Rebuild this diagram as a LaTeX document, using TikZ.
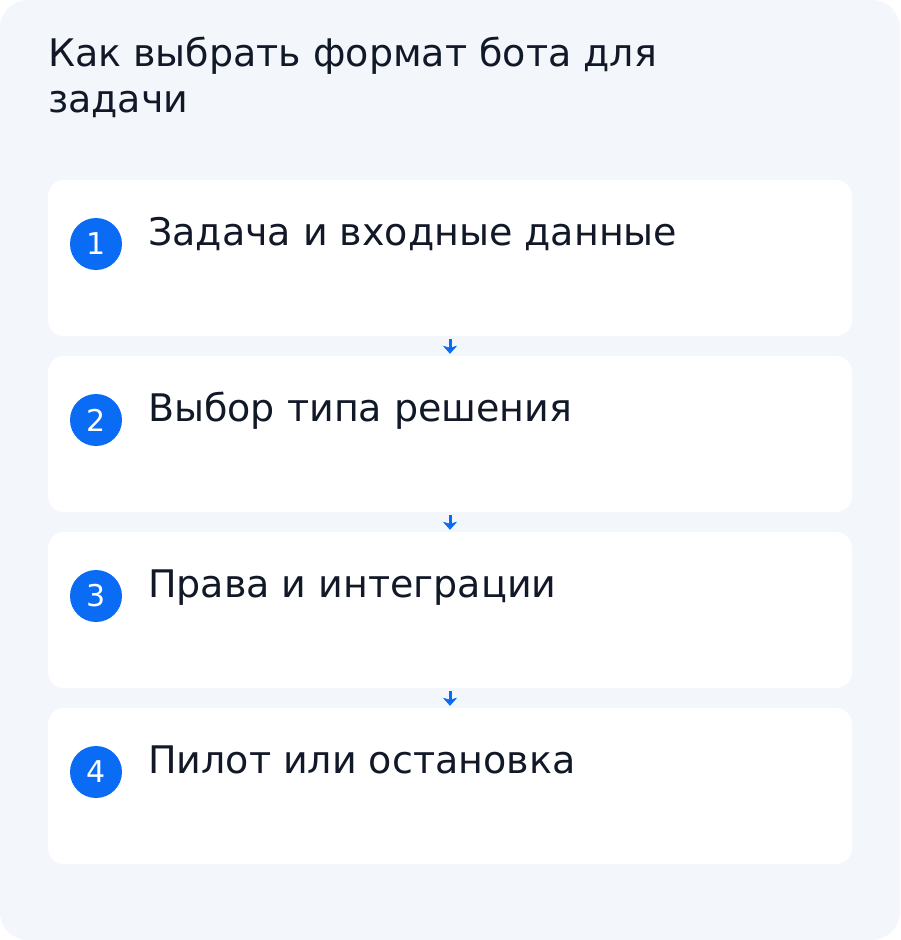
\documentclass[tikz,border=0pt]{standalone}
\usepackage{fontspec}
\setmainfont{DejaVu Sans}
\usetikzlibrary{arrows.meta}
\definecolor{bgc}{HTML}{F3F6FA}
\definecolor{blu}{HTML}{0A6CF5}
\definecolor{ink}{HTML}{111827}
\tikzset{
  card/.style={draw=none, fill=white, rounded corners=16pt, minimum width=804pt, minimum height=156pt, inner sep=0pt},
  num/.style={circle, fill=blu, text=white, minimum size=52pt, inner sep=0pt, font=\fontsize{30}{30}\selectfont},
  lbl/.style={anchor=base west, inner sep=0pt, text=ink, font=\fontsize{38}{38}\selectfont},
  ttl/.style={anchor=base west, inner sep=0pt, text=ink, font=\fontsize{38}{46}\selectfont, align=left},
  arr/.style={draw=blu, fill=blu, line width=3pt, -{Stealth[length=8pt,width=14pt,inset=2pt,line width=0.5pt]}, shorten <=3pt, shorten >=2pt}
}
\begin{document}
\begin{tikzpicture}[x=1pt,y=-1pt]
\useasboundingbox (0,0) rectangle (900,940);
\fill[bgc, rounded corners=28pt] (0,0) rectangle (900,940);
\node[ttl] (title) at (48,112) {Как выбрать формат бота для\\задачи};
\foreach \i/\t in {1/Задача и входные данные,2/Выбор типа решения,3/Права и интеграции,4/Пилот или остановка}{
  \node[card] (c\i) at (450,{258+176*(\i-1)}) {};
  \node[num] (n\i) at (96,{244+176*(\i-1)}) {\i};
  \node[lbl] (l\i) at (148,{245+176*(\i-1)}) {\t};
}
\draw[arr] (c1.south) -- (c2.north);
\draw[arr] (c2.south) -- (c3.north);
\draw[arr] (c3.south) -- (c4.north);
\end{tikzpicture}
\end{document}
